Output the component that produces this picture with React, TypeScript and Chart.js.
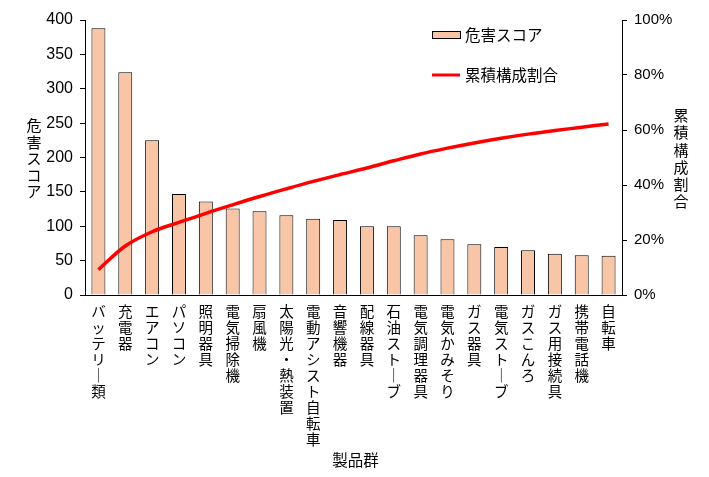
import React, { useEffect, useRef } from 'react';
import { Chart, registerables, Plugin } from 'chart.js';

Chart.register(...registerables);

const categories = [
  'バッテリー類',
  '充電器',
  'エアコン',
  'パソコン',
  '照明器具',
  '電気掃除機',
  '扇風機',
  '太陽光・熱装置',
  '電動アシスト自転車',
  '音響機器',
  '配線器具',
  '石油ストーブ',
  '電気調理器具',
  '電気かみそり',
  'ガス器具',
  '電気ストーブ',
  'ガスこんろ',
  'ガス用接続具',
  '携帯電話機',
  '自転車',
];

const hazardScores = [388, 324, 225, 147, 136, 126, 122, 116, 111, 109, 100, 100, 87, 81, 74, 70, 65, 60, 58, 57];

const cumulativeShare = [9.2, 17.8, 23.0, 26.4, 29.7, 32.8, 35.8, 38.6, 41.3, 43.8, 46.2, 48.8, 51.3, 53.4, 55.3, 57.0, 58.5, 59.8, 61.0, 62.2];

const scoreLabel = '危害スコア';
const shareLabel = '累積構成割合';
const xTitle = '製品群';

const JP_FONT = '"Noto Sans CJK JP", "Noto Sans", sans-serif';
const NUM_FONT = '"Liberation Sans", Arial, sans-serif';

// vertical (tategaki) text: one character per line, long vowel mark turned upright
const toVertical = (s: string) => Array.from(s).map((c) => (c === 'ー' ? '｜' : c));

const drawStacked = (ctx: CanvasRenderingContext2D, text: string, x: number, cy: number, pitch: number) => {
  const chars = toVertical(text);
  const top = cy - (chars.length * pitch) / 2 + pitch / 2;
  chars.forEach((c, i) => ctx.fillText(c, x, top + i * pitch));
};

const titlesPlugin: Plugin = {
  id: 'verticalTitles',
  afterDraw(chart) {
    const { ctx, chartArea } = chart;
    const cy = (chartArea.top + chartArea.bottom) / 2;
    ctx.save();
    ctx.fillStyle = '#000';
    ctx.textAlign = 'center';
    ctx.textBaseline = 'middle';
    ctx.font = `15px ${JP_FONT}`;
    drawStacked(ctx, scoreLabel, chartArea.left - 51, cy + 1, 16.4);
    drawStacked(ctx, shareLabel, chartArea.right + 59, cy + 1, 17.2);
    ctx.font = `15.5px ${JP_FONT}`;
    ctx.fillText(xTitle, (chartArea.left + chartArea.right) / 2 + 2, 460);
    ctx.restore();
  },
};

const legendPlugin: Plugin = {
  id: 'innerLegend',
  afterDraw(chart) {
    const { ctx, chartArea } = chart;
    const x = chartArea.left + 347;
    const bar = chart.data.datasets[0] as any;
    const line = chart.data.datasets[1] as any;
    ctx.save();
    ctx.font = `15.5px ${JP_FONT}`;
    ctx.textBaseline = 'middle';
    ctx.textAlign = 'left';
    // bar entry
    ctx.fillStyle = bar.backgroundColor;
    ctx.strokeStyle = '#000';
    ctx.lineWidth = 1;
    ctx.fillRect(x + 0.5, 31.5, 28, 7);
    ctx.strokeRect(x + 0.5, 31.5, 28, 7);
    ctx.fillStyle = '#000';
    ctx.fillText(bar.label, x + 33, 35);
    // line entry
    ctx.strokeStyle = line.borderColor;
    ctx.lineWidth = 3;
    ctx.beginPath();
    ctx.moveTo(x, 75);
    ctx.lineTo(x + 28, 75);
    ctx.stroke();
    ctx.fillStyle = '#000';
    ctx.fillText(line.label, x + 33, 75);
    ctx.restore();
  },
};

export default function App() {
  const canvasRef = useRef<HTMLCanvasElement>(null);
  const chartRef = useRef<Chart | null>(null);

  useEffect(() => {
    document.body.style.margin = '0';
    if (!canvasRef.current) return;
    if (chartRef.current) chartRef.current.destroy();

    chartRef.current = new Chart(canvasRef.current, {
      type: 'bar',
      data: {
        labels: categories.map(toVertical),
        datasets: [
          {
            type: 'bar',
            label: scoreLabel,
            data: hazardScores,
            backgroundColor: '#f8c6a6',
            borderColor: '#000',
            borderWidth: 1,
            barPercentage: 0.52,
            categoryPercentage: 1,
            yAxisID: 'y',
            order: 2,
          },
          {
            type: 'line',
            label: shareLabel,
            data: cumulativeShare,
            borderColor: '#ff0000',
            borderWidth: 3.5,
            pointRadius: 0,
            tension: 0.35,
            yAxisID: 'y1',
            order: 1,
          } as any,
        ],
      },
      options: {
        responsive: false,
        animation: false,
        layout: { padding: { top: 20, left: 0, right: 0, bottom: 0 } },
        plugins: {
          legend: { display: false },
          tooltip: { enabled: false },
        },
        scales: {
          x: {
            grid: { display: false },
            border: { display: true, color: '#000', width: 1 },
            ticks: {
              autoSkip: false,
              maxRotation: 0,
              minRotation: 0,
              padding: 1,
              color: '#000',
              font: { family: JP_FONT, size: 14.5, lineHeight: 1.1 },
            },
            afterFit: (s: any) => {
              s.height = 182;
            },
          },
          y: {
            position: 'left',
            min: 0,
            max: 400,
            ticks: {
              stepSize: 50,
              padding: 7,
              color: '#000',
              font: { family: NUM_FONT, size: 16 },
            },
            grid: { display: true, drawOnChartArea: false, drawTicks: true, tickLength: 5, color: '#000' },
            border: { display: true, color: '#000', width: 1 },
            afterFit: (s: any) => {
              s.width = 85;
            },
          },
          y1: {
            position: 'right',
            min: 0,
            max: 100,
            ticks: {
              stepSize: 20,
              padding: 7,
              color: '#000',
              font: { family: NUM_FONT, size: 15 },
              callback: (v: any) => `${v}%`,
            },
            grid: { display: true, drawOnChartArea: false, drawTicks: true, tickLength: 5, color: '#000' },
            border: { display: true, color: '#000', width: 1 },
            afterFit: (s: any) => {
              s.width = 87;
            },
          },
        },
      },
      plugins: [titlesPlugin, legendPlugin],
    });

    return () => {
      if (chartRef.current) {
        chartRef.current.destroy();
        chartRef.current = null;
      }
    };
  }, []);

  return (
    <div style={{ width: 709, height: 477, background: '#fff' }}>
      <canvas ref={canvasRef} width={709} height={477} style={{ width: 709, height: 477 }} />
    </div>
  );
}
